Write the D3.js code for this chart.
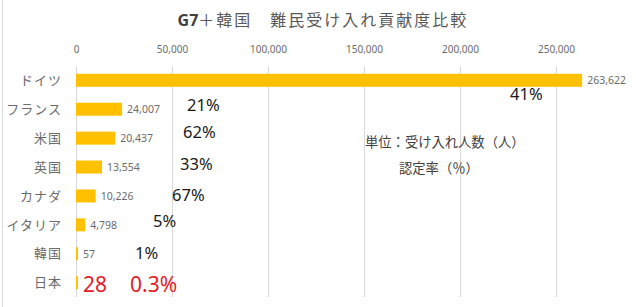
<!DOCTYPE html>
<html>
<head>
<meta charset="utf-8">
<script src="https://cdn.jsdelivr.net/npm/d3@7"></script>
<style>
  body { margin: 0; background: #fff; }
  svg { display: block; font-family: "Noto Sans CJK JP", "Noto Sans", sans-serif; }
</style>
</head>
<body>
<svg id="chart" width="636" height="307"></svg>
<script>
// chart data
const countries = ["ドイツ", "フランス", "米国", "英国", "カナダ", "イタリア", "韓国", "日本"];
const accepted = [263622, 24007, 20437, 13554, 10226, 4798, 57, 28];
const rates = ["41%", "21%", "62%", "33%", "67%", "5%", "1%", "0.3%"];
const ticks = [0, 50000, 100000, 150000, 200000, 250000];

let width = 636, height = 307;
let margin = { top: 66, right: 40, bottom: 10, left: 76 };

const svg = d3.select("#chart");

// light frame on the left like the original screenshot
svg.append("line")
  .attr("x1", 2.5).attr("x2", 2.5)
  .attr("y1", 0).attr("y2", height)
  .attr("stroke", "#d9d9d9");

// title ("G7" is set darker/bolder)
const title = svg.append("text")
  .attr("x", 323)
  .attr("y", 26)
  .attr("text-anchor", "middle")
  .attr("font-size", 16)
  .attr("letter-spacing", 2)
  .attr("fill", "#595959");
title.append("tspan")
  .attr("font-weight", "bold")
  .attr("fill", "#404040")
  .attr("letter-spacing", 0)
  .attr("font-family", "Noto Sans, sans-serif")
  .text("G7");
title.append("tspan").text("＋韓国　難民受け入れ貢献度比較");

const x = d3.scaleLinear()
  .domain([0, 250000])
  .range([margin.left, margin.left + 480]);

const y = d3.scaleBand()
  .domain(countries)
  .range([margin.top, 297])
  .paddingInner(0.55)
  .paddingOuter(0.27);

// gridlines + top tick labels
const xAxis = d3.axisTop(x)
  .tickValues(ticks)
  .tickSize(-(297 - margin.top))
  .tickFormat(d3.format(","));

const gx = svg.append("g")
  .attr("transform", `translate(0, ${margin.top})`)
  .call(xAxis);
gx.select(".domain").remove();
gx.selectAll(".tick line").attr("stroke", "#d9d9d9");
gx.selectAll(".tick text")
  .attr("y", -13)
  .attr("font-size", 10)
  .attr("fill", "#6b6b6b")
  .attr("font-family", "Noto Sans, sans-serif");

// category labels
svg.append("g")
  .selectAll("text")
  .data(countries)
  .enter()
  .append("text")
  .attr("x", 62)
  .attr("y", d => y(d) + y.bandwidth() / 2)
  .attr("dy", "0.36em")
  .attr("text-anchor", "end")
  .attr("font-size", 13)
  .attr("letter-spacing", 1)
  .attr("fill", "#6b6b6b")
  .text(d => d);

// bars
svg.append("g")
  .selectAll("rect")
  .data(accepted)
  .enter()
  .append("rect")
  .attr("x", x(0))
  .attr("y", (d, i) => y(countries[i]))
  .attr("width", d => Math.max(x(d) - x(0), 2))
  .attr("height", y.bandwidth())
  .attr("fill", "#FFC000");

// value labels (Japan gets the big red one)
svg.append("g")
  .selectAll("text")
  .data(accepted)
  .enter()
  .append("text")
  .attr("x", d => Math.max(x(d), x(0) + 2) + 5)
  .attr("y", (d, i) => y(countries[i]) + y.bandwidth() / 2)
  .attr("dy", (d, i) => i === 7 ? "0.45em" : "0.36em")
  .attr("font-size", (d, i) => i === 7 ? 21 : 10.5)
  .attr("fill", (d, i) => i === 7 ? "#e3202a" : "#6b6b6b")
  .attr("font-family", "Noto Sans, sans-serif")
  .text(d => d3.format(",")(d));

// recognition rate annotations, placed as free text boxes
const rateX = [510, 187, 183, 180, 172, 153, 135, 130];
const rateY = [100, 111, 138, 170, 201, 227, 259, 292];
svg.append("g")
  .selectAll("text")
  .data(rates)
  .enter()
  .append("text")
  .attr("x", (d, i) => rateX[i])
  .attr("y", (d, i) => rateY[i])
  .attr("font-size", (d, i) => i === 7 ? 21 : 16.5)
  .attr("fill", (d, i) => i === 7 ? "#e3202a" : "#1a1a1a")
  .attr("font-family", "Noto Sans, sans-serif")
  .text(d => d);

// unit note
svg.append("text")
  .attr("x", 365).attr("y", 147)
  .attr("font-size", 13.3)
  .attr("fill", "#404040")
  .text("単位：受け入れ人数（人）");
svg.append("text")
  .attr("x", 399).attr("y", 173)
  .attr("font-size", 13.3)
  .attr("fill", "#404040")
  .text("認定率（％）");
</script>
</body>
</html>
